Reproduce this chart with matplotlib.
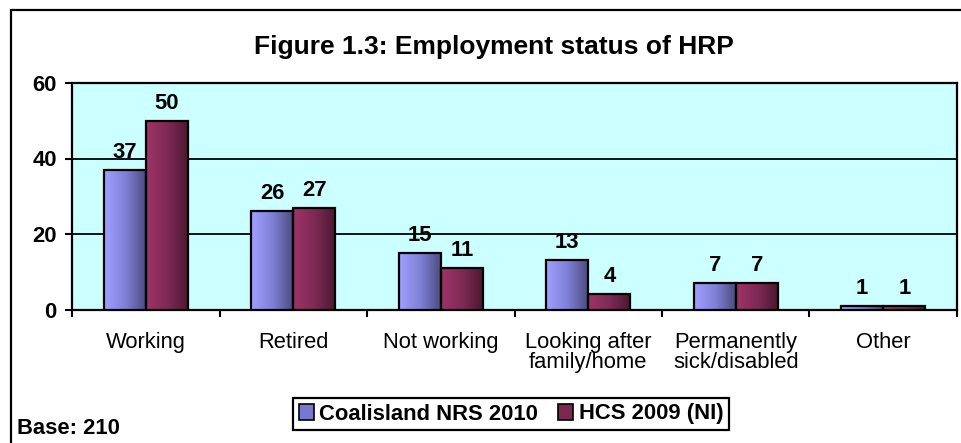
import numpy as np
import matplotlib
matplotlib.use("Agg")
from matplotlib import pyplot as plt
from matplotlib.patches import Rectangle, Patch
from matplotlib.colors import LinearSegmentedColormap

# ================================================================
# 0. Section: DATA
# ================================================================
CATEGORIES = ["Working", "Retired", "Not working", "Looking after\nfamily/home",
              "Permanently\nsick/disabled", "Other"]
COALISLAND = [37, 26, 15, 13, 7, 1]
HCS = [50, 27, 11, 4, 7, 1]
SERIES_NAMES = ["Coalisland NRS 2010", "HCS 2009 (NI)"]
Y_TICKS = [0, 20, 40, 60]

TITLE = "Figure 1.3: Employment status of HRP"
BASE_TEXT = "Base: 210"

# ================================================================
# 1. Section: STYLE
# ================================================================
plt.rcParams["font.family"] = ["Liberation Sans", "DejaVu Sans"]
FS = 15.8
BLUE_GRAD = LinearSegmentedColormap.from_list("blue", ["#A0A0FF", "#8080D8", "#4A4A7E"])
RED_GRAD = LinearSegmentedColormap.from_list("red", ["#9E3468", "#7F2A55", "#4A1830"])
BAR_W = 0.285


def gradient_bars(ax, xs, heights, cmap):
    grad = np.linspace(0, 1, 64).reshape(1, -1)
    for x, h in zip(xs, heights):
        bar = ax.bar(x, h, width=BAR_W, color="none", edgecolor="black",
                     linewidth=1.6, zorder=4)[0]
        img = ax.imshow(grad, cmap=cmap, aspect="auto", zorder=3,
                        extent=(x - BAR_W / 2, x + BAR_W / 2, 0, h))
        img.set_clip_path(bar)
        ax.annotate(f"{h}", (x, h), xytext=(0, 5), textcoords="offset points",
                    ha="center", va="bottom", fontsize=FS, fontweight="bold", zorder=5)


# ================================================================
# 2. Section: MAIN
# ================================================================
fig = plt.figure(figsize=(9.62, 4.43), dpi=100)
ax = fig.add_axes([72 / 962, 1 - 309.5 / 443, 885 / 962, 226.5 / 443])
ax.set_facecolor("#CCFFFF")

x = np.arange(len(CATEGORIES))
gradient_bars(ax, x - BAR_W / 2, COALISLAND, BLUE_GRAD)
gradient_bars(ax, x + BAR_W / 2, HCS, RED_GRAD)

ax.set_xlim(-0.5, len(CATEGORIES) - 0.5)
ax.set_ylim(0, 60)
ax.set_yticks(Y_TICKS)
ax.set_yticklabels([str(t) for t in Y_TICKS], fontsize=FS, fontweight="bold")
ax.set_xticks(x)
ax.set_xticklabels(CATEGORIES, fontsize=FS, va="top", linespacing=0.95)
ax.set_xticks(np.arange(len(CATEGORIES) + 1) - 0.5, minor=True)
ax.tick_params(axis="x", which="major", length=0, pad=16)
ax.tick_params(axis="x", which="minor", length=5, width=1.5, direction="out")
ax.tick_params(axis="y", length=5, width=1.5, direction="out", pad=6)
ax.grid(axis="y", color="black", linewidth=1.3, zorder=1)
ax.set_axisbelow(True)
for sp in ax.spines.values():
    sp.set_linewidth(1.6)
    sp.set_color("black")

fig.text(494 / 962, 1 - 47 / 443, TITLE, ha="center", va="center",
         fontsize=19, fontweight="bold")
fig.text(17 / 962, 1 - 434 / 443, BASE_TEXT, ha="left", va="baseline",
         fontsize=FS, fontweight="bold")

handles = [Patch(facecolor="#7878D0", edgecolor="black", linewidth=1.2),
           Patch(facecolor="#7A2850", edgecolor="black", linewidth=1.2)]
leg = fig.legend(handles, SERIES_NAMES, loc="center", bbox_to_anchor=(511 / 962, 1 - 414 / 443),
                 ncol=2, fancybox=False, edgecolor="black", framealpha=1,
                 prop={"size": FS, "weight": "bold"}, handlelength=0.7, handleheight=0.7,
                 handletextpad=0.25, columnspacing=0.9, borderpad=0.25, borderaxespad=0)
leg.get_frame().set_linewidth(1.6)

# outer chart frame (right and bottom edges fall outside the image)
fig.patches.append(Rectangle((10.5 / 962, -0.1), 1.2, 1 - 10.5 / 443 + 0.1,
                             transform=fig.transFigure, fill=False,
                             edgecolor="black", linewidth=1.6))

fig.savefig("out.png", dpi=100)
